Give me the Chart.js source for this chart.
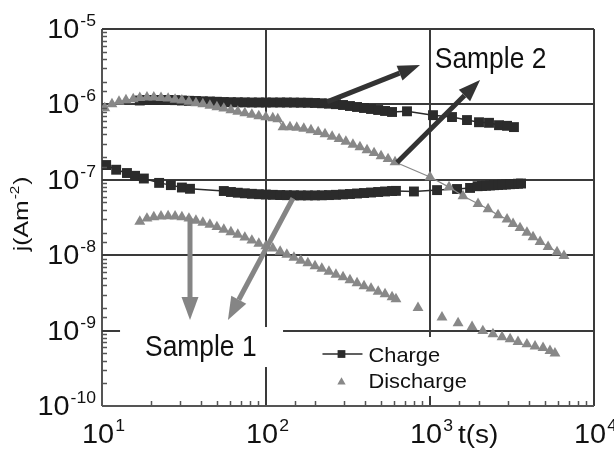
<!DOCTYPE html>
<html>
<head>
<meta charset="utf-8">
<script src="https://cdn.jsdelivr.net/npm/chart.js@4.4.0/dist/chart.umd.min.js"></script>
<style>
html, body { margin: 0; padding: 0; background: #fff; }
</style>
</head>
<body>
<canvas id="myChart" width="614" height="457"></canvas>
<script>
// axis decades (powers of ten)
var xPowers = [1, 2, 3, 4];
var yPowers = [-10, -9, -8, -7, -6, -5];

// Sample 1
var s1ChargeT = [10.6, 12.2, 14.2, 15.9, 18.0, 22.3, 26.3, 30.7, 34.4,
	55.3, 61.1, 67.3, 74.3, 82.0, 90.4, 99.8, 110, 122, 134, 148, 163, 180, 199, 219, 242, 267, 295, 325, 359, 396, 437, 483, 532, 587, 620,
	798, 1104, 1462, 1755,
	1950, 2075, 2195, 2321, 2455, 2600, 2750, 2905, 3075, 3250, 3440, 3590];
var s1ChargeJ = [1.57e-7, 1.36e-7, 1.23e-7, 1.13e-7, 1.04e-7, 9.1e-8, 8.5e-8, 7.9e-8, 7.6e-8,
	7.10e-8, 6.89e-8, 6.74e-8, 6.62e-8, 6.52e-8, 6.44e-8, 6.38e-8, 6.32e-8, 6.28e-8, 6.25e-8, 6.23e-8, 6.21e-8, 6.21e-8, 6.21e-8, 6.23e-8, 6.27e-8, 6.32e-8, 6.40e-8, 6.48e-8, 6.58e-8, 6.68e-8, 6.78e-8, 6.89e-8, 7.00e-8, 7.10e-8, 7.13e-8,
	7.0e-8, 7.3e-8, 7.55e-8, 7.8e-8,
	8.22e-8, 8.28e-8, 8.35e-8, 8.41e-8, 8.48e-8, 8.54e-8, 8.61e-8, 8.67e-8, 8.74e-8, 8.80e-8, 8.87e-8, 8.93e-8];
var s1DischargeT = [17.0, 18.8, 20.7, 22.9, 25.3, 27.9, 30.7, 33.9, 37.4, 41.2, 45.5, 50.2, 55.3, 61.1, 67.3, 74.3, 82.0, 90.4, 99.8,
	110, 122, 134, 148, 163, 180, 199, 219, 242, 267, 295, 325, 359, 396, 437, 483, 532, 587, 620,
	845, 1183, 1483, 1805, 2100, 2420, 2750, 3080, 3440, 3900, 4370, 4890, 5390, 5780];
var s1DischargeJ = [2.80e-8, 3.07e-8, 3.21e-8, 3.28e-8, 3.31e-8, 3.28e-8, 3.21e-8, 3.07e-8, 2.88e-8, 2.71e-8, 2.55e-8, 2.37e-8, 2.19e-8, 2.03e-8, 1.88e-8, 1.72e-8, 1.57e-8, 1.43e-8, 1.32e-8,
	1.23e-8, 1.12e-8, 1.02e-8, 9.32e-9, 8.51e-9, 7.88e-9, 7.19e-9, 6.66e-9, 6.08e-9, 5.55e-9, 5.14e-9, 4.69e-9, 4.28e-9, 3.90e-9, 3.62e-9, 3.30e-9, 3.06e-9, 2.79e-9, 2.62e-9,
	2.0e-9, 1.5e-9, 1.26e-9, 1.12e-9, 9.9e-10, 9.0e-10, 8.2e-10, 7.7e-10, 7.1e-10, 6.6e-10, 6.2e-10, 5.9e-10, 5.4e-10, 5.0e-10];

// Sample 2
var s2ChargeT = [17.0, 18.8, 20.7, 22.9, 25.3, 27.9, 30.7, 33.9, 37.4, 41.2, 45.5, 50.2, 55.3, 61.1, 67.3, 74.3, 82.0, 90.4, 99.8,
	110, 122, 134, 148, 163, 180, 199, 219, 242, 267, 295, 325, 359, 396, 437, 483, 532, 587,
	724, 1043, 1362, 1681, 1990, 2290, 2635, 2950, 3250];
var s2ChargeJ = [1.126e-6, 1.144e-6, 1.144e-6, 1.144e-6, 1.144e-6, 1.138e-6, 1.126e-6, 1.116e-6, 1.11e-6, 1.10e-6, 1.093e-6, 1.084e-6, 1.076e-6, 1.07e-6, 1.067e-6, 1.064e-6, 1.06e-6, 1.06e-6, 1.06e-6,
	1.06e-6, 1.06e-6, 1.06e-6, 1.057e-6, 1.054e-6, 1.051e-6, 1.044e-6, 1.035e-6, 1.022e-6, 1.007e-6, 9.82e-7, 9.52e-7, 9.24e-7, 8.96e-7, 8.69e-7, 8.43e-7, 8.18e-7, 7.93e-7,
	8.1e-7, 7.2e-7, 6.8e-7, 6.2e-7, 5.8e-7, 5.7e-7, 5.3e-7, 5.2e-7, 5.0e-7];
var s2DischargeT = [10.4, 11.5, 12.7, 14.0, 15.5, 17.0, 18.8, 20.7, 22.9, 25.3, 27.9, 30.7, 33.9, 37.4, 41.2, 45.5, 50.2, 55.3, 61.1, 67.3, 74.3, 82.0, 90.4, 99.8, 110, 118,
	127, 140, 154, 170, 188, 208, 229, 253, 279, 307, 339, 374, 413, 456, 503, 555, 612,
	1000, 1306, 1589, 1963, 2260, 2600, 2950, 3210, 3540, 3900, 4250, 4690, 5250, 5950, 6560];
var s2DischargeJ = [8.96e-7, 1.01e-6, 1.09e-6, 1.14e-6, 1.18e-6, 1.22e-6, 1.24e-6, 1.24e-6, 1.22e-6, 1.20e-6, 1.16e-6, 1.13e-6, 1.09e-6, 1.04e-6, 1.01e-6, 9.67e-7, 9.24e-7, 8.83e-7, 8.43e-7, 8.05e-7, 7.69e-7, 7.35e-7, 7.02e-7, 6.81e-7, 6.6e-7, 6.4e-7,
	5.01e-7, 5.01e-7, 4.94e-7, 4.79e-7, 4.57e-7, 4.31e-7, 4.05e-7, 3.75e-7, 3.48e-7, 3.22e-7, 2.94e-7, 2.72e-7, 2.48e-7, 2.27e-7, 2.07e-7, 1.89e-7, 1.72e-7,
	1.09e-7, 8.0e-8, 6.1e-8, 4.8e-8, 4.1e-8, 3.4e-8, 3.0e-8, 2.6e-8, 2.3e-8, 2.0e-8, 1.74e-8, 1.5e-8, 1.29e-8, 1.1e-8, 9.8e-9];

var legendLabels = ["Charge", "Discharge"];

// arrows and sample labels, in data coordinates [t, j]
var arrowsS2 = [[[236, 1.08e-6], [869, 3.33e-6]], [[630, 1.7e-7], [2020, 2.11e-6]]];
var arrowsS1 = [[[34.4, 3.1e-8], [34.4, 1.38e-9]], [[146, 5.7e-8], [58.6, 1.38e-9]]];
var sample2Pos = [1070, 3.04e-6];
var sample1Pos = [18.3, 4.6e-10];

var FONT = "'Liberation Sans', Arial, Helvetica, sans-serif";
var chargeColor = "#2b2b2b";
var dischargeColor = "#888888";

function pts(t, j) {
	var out = [];
	for (var i = 0; i < t.length; i++) out.push({ x: t[i], y: j[i] });
	return out;
}

function isPow(v) {
	var l = Math.log10(v);
	return Math.abs(l - Math.round(l)) < 1e-6;
}

function gridColor(c) {
	if (!c.tick || !isPow(c.tick.value)) return "rgba(0,0,0,0)";
	return c.index === 0 ? "#555" : "#3a3a3a";
}

function txt(ctx, s, x, y, size, sx) {
	ctx.save();
	ctx.font = size + "px " + FONT;
	ctx.translate(x, y);
	ctx.scale(sx, 1);
	ctx.fillText(s, 0, 0);
	ctx.restore();
}

function txtWidth(ctx, s, size, sx) {
	ctx.font = size + "px " + FONT;
	return ctx.measureText(s).width * sx;
}

// "10" with exponent
function powLabel(ctx, p, x, baseY, align) {
	var e = String(p);
	var w1 = txtWidth(ctx, "10", 27, 1.07);
	var w2 = txtWidth(ctx, e, 16, 1.1);
	var start = align === "center" ? x - (w1 + w2) / 2 : x - (w1 + w2);
	txt(ctx, "10", start, baseY, 27, 1.07);
	txt(ctx, e, start + w1 + 1, baseY - 12, 16, 1.1);
}

function arrow(ctx, x1, y1, x2, y2, color, w, hl, hw) {
	var a = Math.atan2(y2 - y1, x2 - x1);
	var bx = x2 - hl * Math.cos(a), by = y2 - hl * Math.sin(a);
	ctx.strokeStyle = color;
	ctx.lineWidth = w;
	ctx.beginPath();
	ctx.moveTo(x1, y1);
	ctx.lineTo(bx, by);
	ctx.stroke();
	ctx.fillStyle = color;
	ctx.beginPath();
	ctx.moveTo(x2, y2);
	ctx.lineTo(bx + hw / 2 * Math.sin(a), by - hw / 2 * Math.cos(a));
	ctx.lineTo(bx - hw / 2 * Math.sin(a), by + hw / 2 * Math.cos(a));
	ctx.closePath();
	ctx.fill();
}

var extras = {
	id: "extras",
	afterDraw: function(chart) {
		var ctx = chart.ctx;
		var xs = chart.scales.x, ys = chart.scales.y;
		var area = chart.chartArea;
		ctx.save();

		// minor ticks, pointing inside
		ctx.strokeStyle = "#555";
		ctx.lineWidth = 1.5;
		xs.ticks.forEach(function(t) {
			if (isPow(t.value)) return;
			var px = Math.round(xs.getPixelForValue(t.value)) + 0.5;
			ctx.beginPath(); ctx.moveTo(px, area.bottom); ctx.lineTo(px, area.bottom - 5); ctx.stroke();
		});
		ys.ticks.forEach(function(t) {
			if (isPow(t.value)) return;
			var py = Math.round(ys.getPixelForValue(t.value)) + 0.5;
			ctx.beginPath(); ctx.moveTo(area.left, py); ctx.lineTo(area.left + 5, py); ctx.stroke();
		});

		// tick labels
		ctx.fillStyle = "#111";
		xPowers.forEach(function(p) {
			powLabel(ctx, p, xs.getPixelForValue(Math.pow(10, p)) + 1, area.bottom + 37, "center");
		});
		yPowers.forEach(function(p) {
			powLabel(ctx, p, area.left - 7, ys.getPixelForValue(Math.pow(10, p)) + 9, "right");
		});
		// x title
		txt(ctx, "t(s)", xs.getPixelForValue(1000) + 28, area.bottom + 37, 25, 1.12);
		// y title
		ctx.save();
		ctx.translate(28, ys.getPixelForValue(1e-8) - 4);
		ctx.rotate(-Math.PI / 2);
		var wj = txtWidth(ctx, "j(Am", 21, 1.18);
		txt(ctx, "j(Am", 0, 0, 21, 1.18);
		var we = txtWidth(ctx, "-2", 13, 1.18);
		txt(ctx, "-2", wj + 1, -9, 13, 1.18);
		txt(ctx, ")", wj + we + 2, 0, 21, 1.18);
		ctx.restore();

		// arrows
		arrowsS2.forEach(function(a) {
			arrow(ctx, xs.getPixelForValue(a[0][0]), ys.getPixelForValue(a[0][1]),
				xs.getPixelForValue(a[1][0]), ys.getPixelForValue(a[1][1]), "#333", 5, 22, 16);
		});
		arrowsS1.forEach(function(a) {
			arrow(ctx, xs.getPixelForValue(a[0][0]), ys.getPixelForValue(a[0][1]),
				xs.getPixelForValue(a[1][0]), ys.getPixelForValue(a[1][1]), "#858585", 5, 23, 17);
		});

		// sample labels
		var sx1 = xs.getPixelForValue(sample1Pos[0]), sy1 = ys.getPixelForValue(sample1Pos[1]);
		ctx.fillStyle = "#fff";
		ctx.fillRect(sx1 - 25, sy1 - 29, 163, 40);
		ctx.fillStyle = "#111";
		txt(ctx, "Sample 1", sx1, sy1, 30, 0.88);
		txt(ctx, "Sample 2", xs.getPixelForValue(sample2Pos[0]), ys.getPixelForValue(sample2Pos[1]), 30, 0.88);

		// legend: charge drawn as line + square, discharge as triangle only
		var lx = area.left + 0.44 * (area.right - area.left);
		var ly = area.top + 0.817 * (area.bottom - area.top);
		ctx.fillStyle = "#fff";
		ctx.fillRect(lx, ly, 157, 59);
		legendLabels.forEach(function(lab, i) {
			var ds = chart.data.datasets.find(function(d) { return d.label === lab; });
			var cy = ly + 17 + i * 26;
			var cx = lx + 23;
			var isRect = ds.pointStyle === "rect";
			if (isRect) {
				ctx.strokeStyle = ds.borderColor;
				ctx.lineWidth = 1.5;
				ctx.beginPath(); ctx.moveTo(cx - 19, cy); ctx.lineTo(cx + 21, cy); ctx.stroke();
			}
			ctx.fillStyle = ds.pointBackgroundColor;
			Chart.helpers.drawPoint(ctx, { pointStyle: ds.pointStyle, radius: isRect ? 5.5 : 4.8, borderWidth: 0, rotation: 0 }, cx, cy + (isRect ? 0 : 2));
			ctx.fillStyle = "#111";
			txt(ctx, lab, lx + 50, cy + 8, 21, 1.04);
		});
		ctx.restore();
	}
};

function chargeSet(label, t, j) {
	return {
		label: label, data: pts(t, j), showLine: true,
		borderColor: chargeColor, borderWidth: 1.5,
		pointStyle: "rect", pointRadius: 7,
		pointBackgroundColor: chargeColor, pointBorderColor: chargeColor, pointBorderWidth: 0
	};
}

function dischargeSet(label, t, j, line) {
	return {
		label: label, data: pts(t, j), showLine: line,
		borderColor: dischargeColor, borderWidth: 1.2,
		pointStyle: "triangle", pointRadius: 6.3,
		pointBackgroundColor: dischargeColor, pointBorderColor: dischargeColor, pointBorderWidth: 0
	};
}

new Chart(document.getElementById("myChart"), {
	type: "scatter",
	data: {
		datasets: [
			// discharge first so triangles sit on top of squares
			dischargeSet("Discharge", s2DischargeT, s2DischargeJ, true),
			dischargeSet("Discharge", s1DischargeT, s1DischargeJ, false),
			chargeSet("Charge", s2ChargeT, s2ChargeJ),
			chargeSet("Charge", s1ChargeT, s1ChargeJ)
		]
	},
	options: {
		responsive: false,
		animation: false,
		devicePixelRatio: 1,
		layout: { padding: { left: 102, top: 29, right: 20, bottom: 51 } },
		plugins: { legend: { display: false }, tooltip: { enabled: false } },
		scales: {
			x: {
				type: "logarithmic",
				min: Math.pow(10, xPowers[0]), max: Math.pow(10, xPowers[xPowers.length - 1]),
				ticks: { display: false },
				grid: { color: gridColor, lineWidth: 2, drawTicks: false },
				border: { display: false }
			},
			y: {
				type: "logarithmic",
				min: Math.pow(10, yPowers[0]), max: Math.pow(10, yPowers[yPowers.length - 1]),
				ticks: { display: false },
				grid: { color: gridColor, lineWidth: 2, drawTicks: false },
				border: { display: false }
			}
		}
	},
	plugins: [extras]
});
</script>
</body>
</html>
